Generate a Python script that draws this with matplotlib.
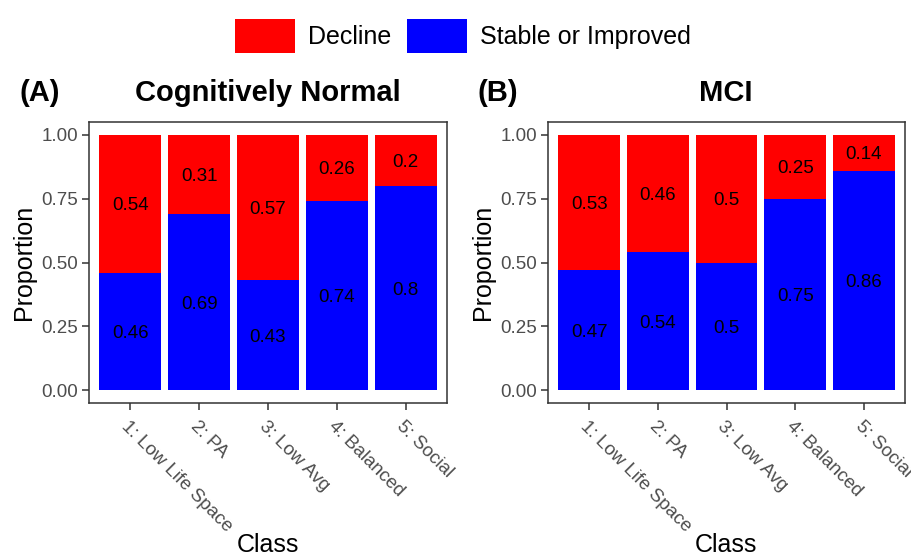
import matplotlib
matplotlib.use("Agg")
import matplotlib.pyplot as plt
from matplotlib.patches import Patch
import numpy as np

plt.rcParams['font.family'] = ['Liberation Sans', 'DejaVu Sans']

# data
classes = ['1: Low Life Space', '2: PA', '3: Low Avg', '4: Balanced', '5: Social']
cn_decline = [0.54, 0.31, 0.57, 0.26, 0.2]
cn_stable = [0.46, 0.69, 0.43, 0.74, 0.8]
mci_decline = [0.53, 0.46, 0.5, 0.25, 0.14]
mci_stable = [0.47, 0.54, 0.5, 0.75, 0.86]

RED = '#FF0000'
BLUE = '#0000FF'
GRAY = '#4D4D4D'
W, H = 912, 559

fig = plt.figure(figsize=(W / 100, H / 100), dpi=100)


def px_axes(x0, x1, y0, y1):
    # pixel box (from top-left) -> figure axes
    return fig.add_axes([x0 / W, 1 - y1 / H, (x1 - x0) / W, (y1 - y0) / H])


def draw_panel(ax, stable, decline):
    x = np.arange(1, len(classes) + 1)
    ax.bar(x, stable, width=0.9, color=BLUE, linewidth=0)
    ax.bar(x, decline, width=0.9, bottom=stable, color=RED, linewidth=0)
    for xi, s, d in zip(x, stable, decline):
        ax.text(xi, s / 2, f"{s:g}", ha='center', va='center_baseline', fontsize=13.5, color='black')
        ax.text(xi, s + d / 2, f"{d:g}", ha='center', va='center_baseline', fontsize=13.5, color='black')
    ax.set_xlim(0.4, 5.6)
    ax.set_ylim(-0.05, 1.05)
    ax.set_yticks([0, 0.25, 0.5, 0.75, 1.0])
    ax.set_yticklabels(['0.00', '0.25', '0.50', '0.75', '1.00'])
    ax.set_xticks(x)
    ax.set_xticklabels(classes, rotation=-45, ha='left', va='top', rotation_mode='anchor')
    ax.tick_params(axis='both', colors='#333333', labelcolor=GRAY, labelsize=13.5,
                   length=5, width=1.1, direction='out', pad=3)
    ax.tick_params(axis='x', pad=6)
    for sp in ax.spines.values():
        sp.set_color('#333333')
        sp.set_linewidth(1.1)


ax1 = px_axes(89, 447, 122, 403)
draw_panel(ax1, cn_stable, cn_decline)
ax2 = px_axes(548, 905, 122, 403)
draw_panel(ax2, mci_stable, mci_decline)

# titles and panel letters
fig.text(268 / W, 1 - 93 / H, 'Cognitively Normal', ha='center', va='center',
         fontsize=21, fontweight='bold')
fig.text(20 / W, 1 - 93 / H, '(A)', ha='left', va='center', fontsize=21, fontweight='bold')
fig.text(726 / W, 1 - 93 / H, 'MCI', ha='center', va='center', fontsize=21, fontweight='bold')
fig.text(478 / W, 1 - 93 / H, '(B)', ha='left', va='center', fontsize=21, fontweight='bold')

# axis titles
for cx, lx in [(268, 24), (726, 483)]:
    fig.text(cx / W, 1 - 545 / H, 'Class', ha='center', va='center', fontsize=18)
    fig.text(lx / W, 1 - 262 / H, 'Proportion', ha='center', va='center',
             rotation=90, fontsize=18)

# legend
handles = [Patch(facecolor=RED, edgecolor='none', label='Decline'),
           Patch(facecolor=BLUE, edgecolor='none', label='Stable or Improved')]
fig.legend(handles=handles, loc='center', bbox_to_anchor=(463 / W, 1 - 36 / H),
           ncol=2, frameon=False, fontsize=18, handlelength=2.4, handleheight=1.7,
           handletextpad=0.55, columnspacing=0.6, borderaxespad=0)

fig.savefig('out.png', dpi=100)
